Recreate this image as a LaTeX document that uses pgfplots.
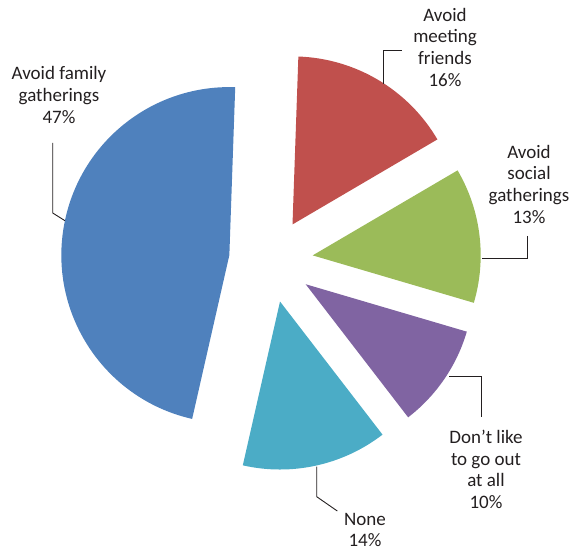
\documentclass[border=0pt]{standalone}
\usepackage{pgfplots}
\pgfplotsset{compat=1.18}
\usepackage{fontspec}
\setmainfont{Carlito}
\definecolor{cblue}{HTML}{4F81BD}
\definecolor{cred}{HTML}{C0504D}
\definecolor{cgreen}{HTML}{9BBB59}
\definecolor{cpurple}{HTML}{8064A2}
\definecolor{cteal}{HTML}{4BACC6}
\definecolor{txt}{HTML}{231F20}
\begin{document}
\begin{tikzpicture}[lbl/.style={anchor=base,font=\fontsize{19}{21.7}\selectfont,text=txt,inner sep=0pt}]
\begin{axis}[x=1pt,y=1pt,xmin=0,xmax=573,ymin=0,ymax=552,hide axis,clip=false,scale only axis]
\def\cx{271}\def\cy{291.5}
\foreach \v/\c [remember=\e as \s (initially 88)] in {16/cred,13/cgreen,10/cpurple,14/cteal,47/cblue} {
  \pgfmathsetmacro\e{\s-3.6*\v}
  \pgfmathsetmacro\m{(\s+\e)/2}
  \pgfmathsetmacro\xa{\cx+42*cos(\m)}
  \pgfmathsetmacro\ya{\cy+42*sin(\m)}
  \edef\temp{\noexpand\fill[\c] (axis cs:\xa,\ya) -- ++(\s:168pt) arc[start angle=\s,end angle=\e,radius=168pt] -- cycle;}
  \temp
}
% leader lines
\draw[txt,line width=0.9pt] (axis cs:52.7,409) -- (axis cs:52.7,339) -- (axis cs:65,331.3);
\draw[txt,line width=0.9pt] (axis cs:401.7,502) -- (axis cs:383.3,502) -- (axis cs:383.3,468);
\draw[txt,line width=0.9pt] (axis cs:527.7,316) -- (axis cs:527.7,293.7) -- (axis cs:481.7,293.7);
\draw[txt,line width=0.9pt] (axis cs:449.3,176) -- (axis cs:481,176) -- (axis cs:481,135.3);
\draw[txt,line width=0.9pt] (axis cs:316.7,85.3) -- (axis cs:316.7,55.3) -- (axis cs:337.3,41);
% labels
\node[lbl] at (axis cs:59,472) {Avoid family};
\node[lbl] at (axis cs:59,450.3) {gatherings};
\node[lbl] at (axis cs:59,428.7) {47\%};
\node[lbl] at (axis cs:445,530.3) {Avoid};
\node[lbl] at (axis cs:445,509) {meeting};
\node[lbl] at (axis cs:445,487) {friends};
\node[lbl] at (axis cs:445,465.3) {16\%};
\node[lbl] at (axis cs:529,393.7) {Avoid};
\node[lbl] at (axis cs:529,372) {social};
\node[lbl] at (axis cs:529,350.3) {gatherings};
\node[lbl] at (axis cs:529,328.7) {13\%};
\node[lbl] at (axis cs:486,108.7) {Don’t like};
\node[lbl] at (axis cs:486,87) {to go out};
\node[lbl] at (axis cs:486,65.3) {at all};
\node[lbl] at (axis cs:486,43.6) {10\%};
\node[lbl] at (axis cs:365,26.3) {None};
\node[lbl] at (axis cs:365,5.5) {14\%};
\end{axis}
\pgfresetboundingbox
\path (current axis.south west) rectangle (current axis.north east);
\end{tikzpicture}
\end{document}
